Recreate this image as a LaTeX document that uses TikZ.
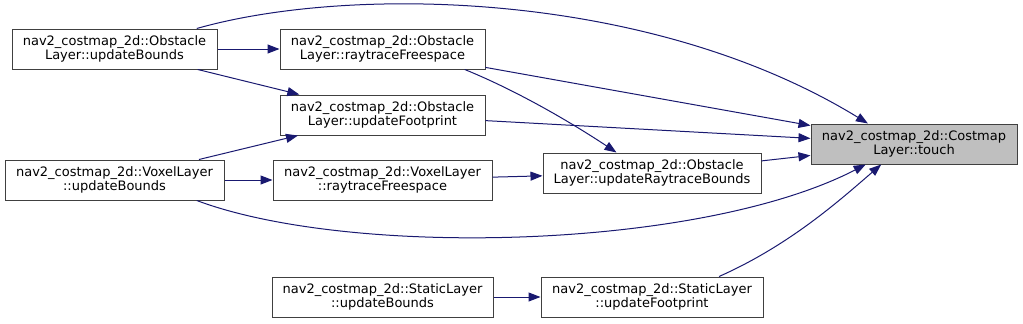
\documentclass[tikz,border=0pt]{standalone}
\usepackage{fontspec}
\setmainfont{DejaVu Sans}
\usepackage{xcolor}
\usepackage{tikz}
\usetikzlibrary{arrows.meta,positioning}
\definecolor{callnavy}{HTML}{191970}
\definecolor{touchgrey}{HTML}{BFBFBF}
\definecolor{boxline}{HTML}{404040}

\begin{document}
\begin{tikzpicture}[
  x=1pt, y=-1pt,
  fn/.style={draw=boxline, fill=white, line width=1pt, minimum height=40pt, inner sep=0pt, align=center, font=\fontsize{13pt}{14pt}\selectfont},
  focus/.style={fn, fill=touchgrey},
  call/.style={->, callnavy, line width=1pt},
  >={Triangle[length=12pt,width=9pt]}
]
\useasboundingbox (0,0) rectangle (1023,324);

\node[fn, minimum width=205pt] (obsbounds) at (114.5,49) {nav2\_costmap\_2d::Obstacle\\Layer::updateBounds};
\node[fn, minimum width=205pt] (obsray) at (382.5,49) {nav2\_costmap\_2d::Obstacle\\Layer::raytraceFreespace};
\node[fn, minimum width=205pt] (obsfoot) at (382.5,115) {nav2\_costmap\_2d::Obstacle\\Layer::updateFootprint};
\node[fn, minimum width=219pt] (voxbounds) at (114.5,180) {nav2\_costmap\_2d::VoxelLayer\\::updateBounds};
\node[fn, minimum width=219pt] (voxray) at (382.5,180) {nav2\_costmap\_2d::VoxelLayer\\::raytraceFreespace};
\node[fn, minimum width=221pt] (statbounds) at (382.5,297) {nav2\_costmap\_2d::StaticLayer\\::updateBounds};
\node[fn, minimum width=218pt] (obsrtb) at (652,173) {nav2\_costmap\_2d::Obstacle\\Layer::updateRaytraceBounds};
\node[fn, minimum width=222pt] (statfoot) at (652,297) {nav2\_costmap\_2d::StaticLayer\\::updateFootprint};
\node[focus, minimum width=206pt] (touch) at (914,144) {nav2\_costmap\_2d::Costmap\\Layer::touch};

% callers of touch
\draw[call] (obsbounds.14) .. controls (350,-15) and (650,-10) .. (touch.156);
\draw[call] (obsray) -- (touch);
\draw[call] (obsfoot) -- (touch);
\draw[call] (obsrtb) -- (touch);
\draw[call] (voxbounds.-14) .. controls (350,258) and (700,250) .. (touch.203);
\draw[call] (statfoot.17) .. controls (790,245) and (840,200) .. (touch.212);

% inner calls
\draw[call] (obsbounds) -- (obsray);
\draw[call] (obsbounds) -- (obsfoot);
\draw[call] (obsray.-14) .. controls (520,92) and (575,125) .. (obsrtb.150);
\draw[call] (voxbounds) -- (obsfoot);
\draw[call] (voxbounds) -- (voxray);
\draw[call] (voxray) -- (obsrtb);
\draw[call] (statbounds) -- (statfoot);

\end{tikzpicture}
\end{document}
